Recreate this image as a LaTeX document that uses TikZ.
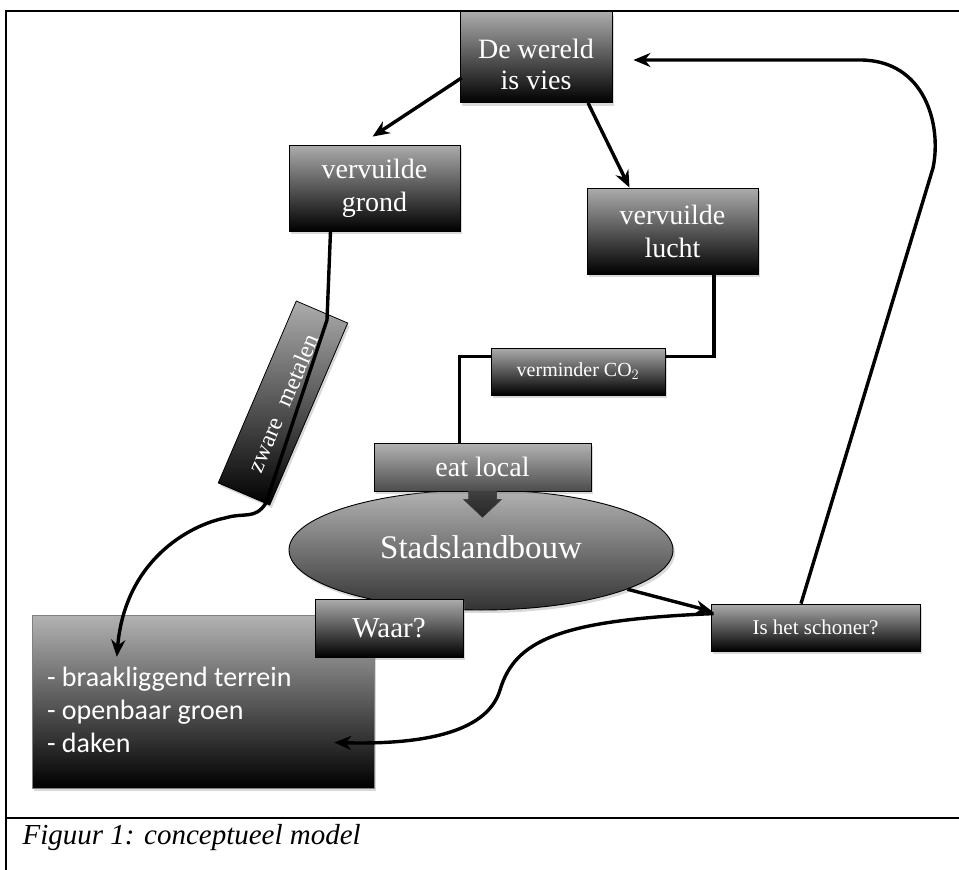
\documentclass[tikz,border=0pt]{standalone}
\usepackage{fontspec}
\setmainfont{Liberation Serif}
\newfontfamily\carl{Carlito}
\usetikzlibrary{arrows.meta,shapes.geometric,shadows,calc}
\begin{document}
\begin{tikzpicture}[x=1pt,y=-1pt,
  gbox/.style={draw=black, line width=0.8pt, top color=gray!65, bottom color=black,
    text=white, align=center, inner sep=0pt,
    drop shadow={opacity=0.3, shadow xshift=2pt, shadow yshift=-3pt}},
  conn/.style={line width=3.4pt, black},
  arr/.style={conn, -{Stealth[length=17pt,width=14pt]}},
  frame/.style={line width=1.5pt, black}
]
\useasboundingbox (0,0) rectangle (959,870);
% frame
\draw[frame] (6,870) -- (6,11) -- (959,11);
\draw[frame] (6,818) -- (959,818);
\node[anchor=west, font=\itshape\fontsize{29}{32}\selectfont] (cap) at (19,838) {Figuur 1: conceptueel model};

% nodes
\node[gbox, minimum width=152, minimum height=91, font=\fontsize{28}{31}\selectfont] (wereld) at (536,57)
  {\raisebox{-17pt}[0pt][0pt]{\begin{tabular}[c]{@{}c@{}}De wereld\\is vies\end{tabular}}};
\node[gbox, minimum width=171, minimum height=86, font=\fontsize{28}{33}\selectfont] (grond) at (374.5,188) {vervuilde\\grond};
\node[gbox, minimum width=171, minimum height=86, font=\fontsize{28}{33}\selectfont] (lucht) at (672.5,231) {vervuilde\\lucht};
\node[gbox, minimum width=174, minimum height=47, font=\fontsize{20}{24}\selectfont] (co2) at (578,371.5) {verminder CO$_2$};

\node[ellipse, draw=black, line width=0.9pt, top color=gray!60, bottom color=black!80,
  minimum width=384, minimum height=120, inner sep=0pt, text=white,
  font=\fontsize{33}{36}\selectfont,
  drop shadow={opacity=0.3, shadow xshift=2pt, shadow yshift=-3pt}] (stad) at (481,550) {\raisebox{6pt}{Stadslandbouw}};
\node[gbox, top color=gray!60, bottom color=black!70, minimum width=217, minimum height=48, font=\fontsize{28}{31}\selectfont] (eat) at (482.5,467) {eat local};
\fill[top color=gray!50!black, bottom color=black!85, draw=black!70, line width=0.4pt]
  ($(eat.south)+(-14,0)$) -- ($(eat.south)+(14,0)$) -- ($(eat.south)+(14,8)$) -- ($(eat.south)+(19,8)$)
  -- ($(eat.south)+(0,26)$) -- ($(eat.south)+(-19,8)$) -- ($(eat.south)+(-14,8)$) -- cycle;

\node[gbox, top color=gray!60, bottom color=black, draw=black!50, line width=0.4pt, minimum width=342, minimum height=173] (big) at (203,701.5) {};
\node[anchor=west, text=white, align=left, inner sep=0pt, font=\carl\fontsize{28}{33}\selectfont] (bigtxt) at ($(big.west)+(15,8)$) {- braakliggend terrein\\- openbaar groen\\- daken};
\node[gbox, minimum width=148, minimum height=58, font=\fontsize{29}{33}\selectfont] (waar) at (389,628) {Waar?};
\node[gbox, minimum width=209, minimum height=47, font=\fontsize{21}{25}\selectfont] (schoner) at (815.5,627.5) {Is het schoner?};

% zware metalen (rotated)
\node[gbox, rotate=66.8, minimum width=198, minimum height=56, font=\fontsize{24}{28}\selectfont] (zware) at (283,403) {zware\hspace{0.6em}metalen};

% connectors
\draw[arr] ($(wereld.south west)+(2,-25)$) -- ($(grond.north)+(-2,-8)$);
\draw[arr] ($(wereld.south)+(52,0)$) -- ($(lucht.north)+(-43,0)$);
\draw[conn] ($(lucht.south)+(41.5,0)$) |- ($(co2.north east)+(0,9)$);
\draw[conn] ($(co2.north west)+(0,9)$) -| ($(eat.north west)+(86,0)$);
\draw[arr] ($(grond.south)+(-44,0)$) -- (327,320) -- (266,503)
  .. controls (255,520) and (245,512) .. (225,518)
  .. controls (190,525) and (125,560) .. ($(big.north west)+(85,42)$);
\draw[arr] (stad.-15) -- ($(schoner.north west)+(2,8)$);
\draw[arr] ($(schoner.north west)+(3,10)$) .. controls (560,620) and (515,640) .. (500,690)
  .. controls (488,730) and (430,745) .. ($(big.east)+(-40,41)$);
\draw[arr] ($(schoner.north)+(-14.5,0)$) -- (933,168) .. controls (942,125) and (925,60) .. (860,60) -- ($(wereld.east)+(21,3)$);
\end{tikzpicture}
\end{document}
